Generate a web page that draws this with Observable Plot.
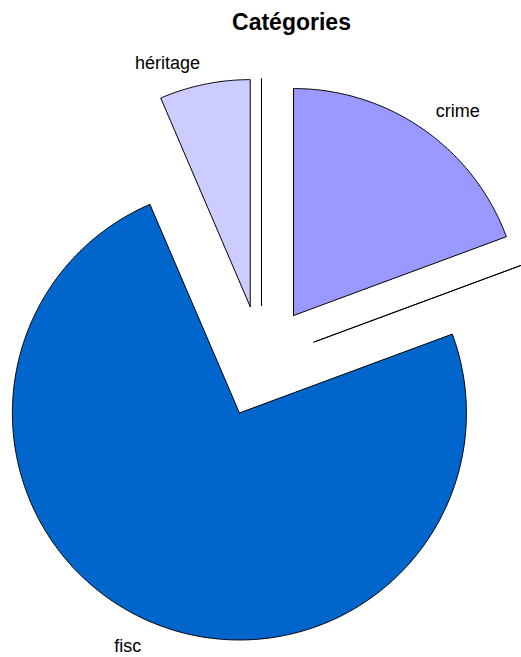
<!DOCTYPE html>
<html>
<head>
<meta charset="utf-8">
<script src="https://cdn.jsdelivr.net/npm/d3@7"></script>
<script src="https://cdn.jsdelivr.net/npm/@observablehq/plot@0.6"></script>
<style>
  html, body { margin: 0; padding: 0; background: #fff; overflow: hidden; }
  #title { font: bold 23px "Liberation Sans", Arial, sans-serif; height: 40px; line-height: 45px; padding-left: 62px; text-align: center; color: #000; overflow: visible; }
  #chart svg { display: block; }
</style>
</head>
<body>
<div id="title">Catégories</div>
<div id="chart"></div>
<script>
// Data
const categories = ["crime", "autre", "fisc", "héritage", "divers"];
const values = [6, 0, 23, 2, 0];
const colors = ["#9999ff", "#ffffff", "#0066cc", "#ccccff", "#ffffff"];

// Layout
const W = 521, H = 617;
const R = 227;        // pie radius (px)
const EXPLODE = 56;   // explode distance (px)
const LABEL_R = 305;  // label distance (px)

const data = categories.map((c, i) => ({category: c, value: values[i]}));
const arcs = d3.pie().sort(null).value(d => d.value)(data);

const polys = [];
const labels = [];
arcs.forEach(a => {
  const mid = (a.startAngle + a.endAngle) / 2;
  const ox = EXPLODE * Math.sin(mid), oy = EXPLODE * Math.cos(mid);
  const cat = a.data.category;
  polys.push({category: cat, x: ox, y: oy});
  const n = Math.max(1, Math.ceil((a.endAngle - a.startAngle) / (Math.PI / 360)));
  for (let k = 0; k <= n; k++) {
    const t = a.startAngle + (a.endAngle - a.startAngle) * k / n;
    polys.push({category: cat, x: ox + R * Math.sin(t), y: oy + R * Math.cos(t)});
  }
  polys.push({category: cat, x: ox, y: oy});
  if (a.data.value > 0) {
    const s = Math.sin(mid), c = Math.cos(mid);
    labels.push({
      label: cat,
      x: LABEL_R * s,
      y: LABEL_R * c,
      anchor: s > 0 ? "start" : "end",
      line: c < 0 ? "top" : "middle"
    });
  }
});

const cx = 261, cy = 321;
const textMarks = [];
for (const ta of ["start", "end"]) {
  for (const la of ["top", "middle"]) {
    textMarks.push(Plot.text(labels.filter(d => d.anchor === ta && d.line === la), {
      x: "x", y: "y", text: "label", textAnchor: ta, lineAnchor: la,
      dy: la === "top" ? -3 : 0, fontSize: 18, fill: "black"
    }));
  }
}

const chart = Plot.plot({
  width: W,
  height: H,
  margin: 0,
  x: {domain: [-cx, W - cx], axis: null},
  y: {domain: [-(H - cy), cy], axis: null},
  color: {domain: categories, range: colors},
  style: {fontFamily: "'Liberation Sans', Arial, sans-serif", background: "white"},
  marks: [
    Plot.line(polys, {x: "x", y: "y", z: "category", fill: "category", stroke: "black", strokeWidth: 1, curve: "linear"}),
    ...textMarks
  ]
});
document.getElementById("chart").appendChild(chart);
</script>
</body>
</html>
